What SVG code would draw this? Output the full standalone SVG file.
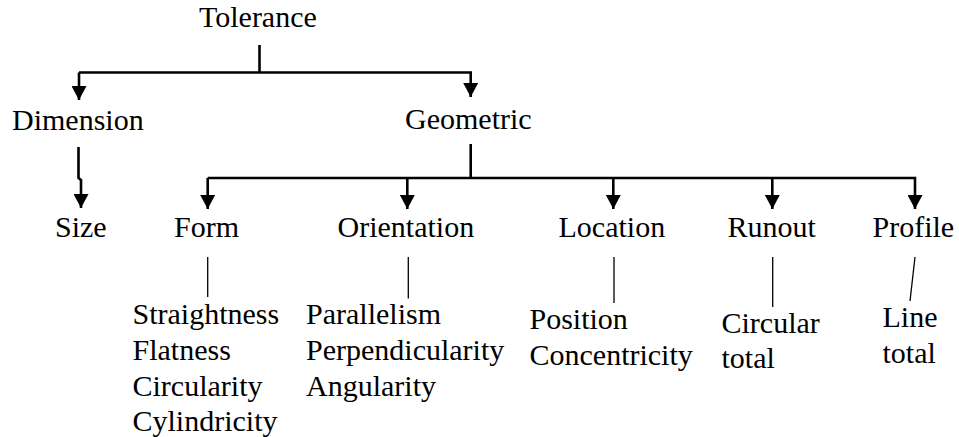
<svg xmlns="http://www.w3.org/2000/svg" width="959" height="437" viewBox="0 0 959 437">
<defs>
<marker id="ah" markerUnits="userSpaceOnUse" markerWidth="15" markerHeight="15" refX="14" refY="7.5" orient="auto" viewBox="0 0 15 15">
<path d="M0,0 L14,7.5 L0,15 z" fill="#000"/>
</marker>
</defs>
<style>
.main{fill:none;stroke:#000;stroke-width:2.6}
.arr{fill:none;stroke:#000;stroke-width:2.6;marker-end:url(#ah)}
.thin{fill:none;stroke:#000;stroke-width:1.3}
.lbl{font-family:"Liberation Serif","Times New Roman",Tinos,"Nimbus Roman","FreeSerif","DejaVu Serif",serif;font-size:30px;fill:#000}
</style>
<rect width="959" height="437" fill="#fff"/>
<g id="connectors">
<path class="main" d="M259.5,45 V72.5"/>
<path class="arr" d="M79,72.5 H470.7 V97"/>
<path class="arr" d="M79,72.5 V100"/>
<path class="main" d="M78.5,147 V178 L81,180"/>
<path class="arr" d="M81,179 V208"/>
<path class="main" d="M470.7,144 V178"/>
<path class="arr" d="M207.7,178 H915 V209"/>
<path class="arr" d="M207.7,178 V209"/>
<path class="arr" d="M407.3,178 V209"/>
<path class="arr" d="M613.3,178 V209"/>
<path class="arr" d="M772.3,178 V209"/>
<path class="thin" d="M207.7,257 V297"/>
<path class="thin" d="M408.3,257 V298.5"/>
<path class="thin" d="M614,257 V303"/>
<path class="thin" d="M772.7,257 V307"/>
<path class="thin" d="M915,257 L910,301"/>
</g>
<g class="lbl">
<g id="tolerance"><text x="199" y="27">Tolerance</text></g>
<g id="dimension"><text x="12" y="130">Dimension</text></g>
<g id="geometric"><text x="405" y="129">Geometric</text></g>
<g id="size"><text x="55" y="237">Size</text></g>
<g id="form"><text x="174" y="237">Form</text></g>
<g id="orientation"><text x="337.5" y="237">Orientation</text></g>
<g id="location"><text x="558.5" y="237">Location</text></g>
<g id="runout"><text x="727.5" y="237">Runout</text></g>
<g id="profile"><text x="872.5" y="237">Profile</text></g>
<g id="form-list">
<text x="132.5" y="324">Straightness</text>
<text x="132.5" y="360">Flatness</text>
<text x="132.5" y="395.5">Circularity</text>
<text x="132.5" y="431">Cylindricity</text>
</g>
<g id="orientation-list">
<text x="306" y="324">Parallelism</text>
<text x="306" y="360">Perpendicularity</text>
<text x="306" y="395.5">Angularity</text>
</g>
<g id="location-list">
<text x="529.5" y="329">Position</text>
<text x="529.5" y="365">Concentricity</text>
</g>
<g id="runout-list">
<text x="721.5" y="333">Circular</text>
<text x="721.5" y="368">total</text>
</g>
<g id="profile-list">
<text x="882.5" y="327">Line</text>
<text x="882.5" y="363">total</text>
</g>
</g>
</svg>
